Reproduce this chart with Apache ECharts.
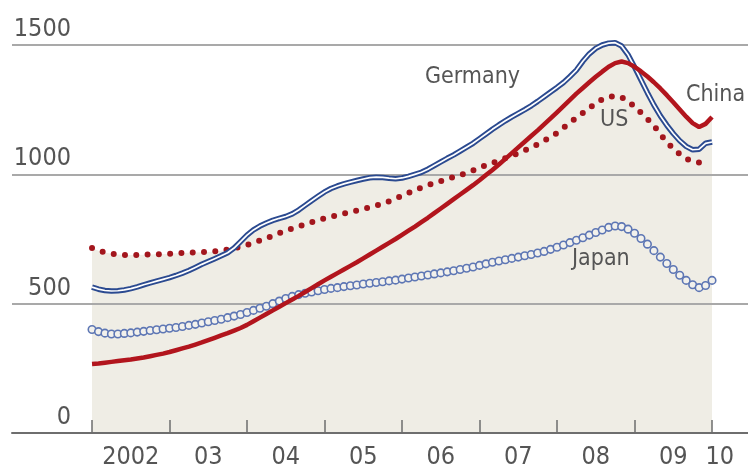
<!DOCTYPE html>
<html>
<head>
<meta charset="utf-8">
<script src="https://cdn.jsdelivr.net/npm/echarts@6/dist/echarts.min.js"></script>
<style>
html,body{margin:0;padding:0;background:#fff;}
#chart{width:748px;height:470px;}
</style>
</head>
<body>
<div id="chart"></div>
<script>
// Monthly values, Jan 2002 (month 0) .. Jan 2010 (month 96)
const china = [267,269,272,275,278,281,284,288,292,297,302,307,313,320,327,334,342,350,359,368,377,386,396,406,418,432,446,460,474,488,502,516,530,545,560,575,590,604,618,632,646,660,675,690,705,720,735,750,766,782,798,815,832,850,868,886,904,922,940,958,977,997,1017,1038,1060,1082,1104,1126,1148,1170,1193,1216,1240,1264,1288,1312,1334,1356,1377,1397,1416,1430,1436,1430,1416,1398,1378,1356,1332,1306,1279,1251,1223,1198,1183,1195,1222];
const germany = [564,556,551,549,550,553,558,565,573,580,587,594,601,609,618,628,640,652,663,674,685,697,715,740,765,785,800,812,822,830,837,847,862,880,898,915,932,945,955,963,970,976,982,987,989,988,985,983,986,992,1000,1008,1020,1034,1048,1062,1075,1090,1105,1120,1138,1156,1174,1191,1207,1222,1236,1250,1265,1282,1300,1318,1336,1355,1378,1403,1437,1466,1487,1500,1507,1509,1496,1462,1415,1365,1315,1268,1226,1190,1158,1130,1108,1095,1097,1120,1125];
const us = [715,705,698,693,690,688,688,688,689,690,691,692,693,695,696,697,698,699,700,702,705,709,714,720,727,735,744,753,763,773,782,791,799,807,815,823,830,836,842,848,854,860,866,872,879,887,896,906,917,928,939,949,958,966,974,982,990,997,1006,1015,1025,1035,1044,1053,1062,1072,1082,1093,1104,1116,1130,1144,1160,1180,1200,1218,1237,1256,1274,1290,1299,1303,1298,1283,1262,1238,1214,1188,1155,1124,1100,1078,1060,1050,1046,1046];
const japan = [400,392,386,383,383,385,387,390,393,396,399,402,405,408,412,416,420,425,430,435,440,446,452,458,466,474,482,490,500,510,520,528,535,540,545,550,555,559,562,566,569,572,576,579,582,585,588,591,595,599,603,607,611,615,619,623,627,632,637,642,648,654,660,665,670,675,680,685,690,696,702,710,718,727,736,745,755,765,775,785,795,800,798,788,772,752,730,705,680,655,632,610,590,573,562,570,590];
const yTicks = [0, 500, 1000, 1500];
const yearTicks = [0,12,24,36,48,60,72,84,96];
const yearLabels = ['2002','03','04','05','06','07','08','09','10'];
const yearLabelPos = [6,18,30,42,54,66,78,90,97.2];

const pts = a => a.map((v,i)=>[i,v]);
const envelope = china.map((v,i)=>[i, Math.max(v, germany[i], japan[i], us[i] !== undefined ? us[i] : 0)]);

const chart = echarts.init(document.getElementById('chart'));
const font = "'DejaVu Sans Condensed', 'Liberation Sans Narrow', sans-serif";
chart.setOption({
  animation:false,
  grid:{left:12,right:0,top:45,bottom:37},
  xAxis:{
    type:'value', min:-12.39, max:101.57, z:1.5,
    axisLine:{show:true, lineStyle:{color:'#6e6e6e', width:2}},
    axisTick:{show:true, inside:true, length:13, customValues:yearTicks, lineStyle:{color:'#6e6e6e', width:1.5}},
    axisLabel:{show:true, customValues:yearLabelPos, margin:12, fontSize:25, fontFamily:font, color:'#555',
      formatter:function(v){const k=yearLabelPos.indexOf(v);return k>=0?yearLabels[k]:'';}},
    splitLine:{show:false}
  },
  yAxis:{
    type:'value', min:0, max:1500, interval:500, z:1.5,
    axisLine:{show:false}, axisTick:{show:false},
    axisLabel:{inside:true, align:'right', margin:59, verticalAlign:'bottom', padding:[0,0,3,0], lineHeight:25, fontSize:25, fontFamily:font, color:'#555',
      formatter:function(v){return yTicks.indexOf(v)>=0?String(v):'';}},
    splitLine:{show:true, lineStyle:{color:'#a9a9a9', width:2}}
  },
  series:[
    {type:'line', data:envelope, z:1, clip:false, symbol:'none', lineStyle:{width:0, opacity:0}, areaStyle:{color:'#efede5', opacity:1}, silent:true},
    {type:'line', data:pts(japan), z:3, clip:false, symbol:'circle', symbolSize:7.5, showAllSymbol:true, lineStyle:{width:0, opacity:0}, itemStyle:{color:'#f2f1ec', borderColor:'#5d76b4', borderWidth:1.6}},
    {type:'line', data:pts(us), z:4, clip:false, symbol:'none', lineStyle:{color:'#a3161d', width:6, type:[0,11.3], cap:'round'}},
    {type:'line', data:pts(germany), z:5, clip:false, symbol:'none', lineStyle:{color:'#2b4a90', width:5.5}},
    {type:'line', data:pts(germany), z:6, clip:false, symbol:'none', lineStyle:{color:'#ffffff', width:1.7}},
    {type:'line', data:pts(china), z:7, clip:false, symbol:'none', lineStyle:{color:'#b2151d', width:4.5}}
  ],
  graphic:[
    {type:'text', z:100, left:425, top:66, style:{text:'Germany', fontSize:23, fontFamily:font, fill:'#555'}},
    {type:'text', z:100, left:686, top:84, style:{text:'China', fontSize:23, fontFamily:font, fill:'#555'}},
    {type:'text', z:100, left:600, top:109, style:{text:'US', fontSize:23, fontFamily:font, fill:'#555'}},
    {type:'text', z:100, left:572, top:248, style:{text:'Japan', fontSize:23, fontFamily:font, fill:'#555'}}
  ]
});
</script>
</body>
</html>
